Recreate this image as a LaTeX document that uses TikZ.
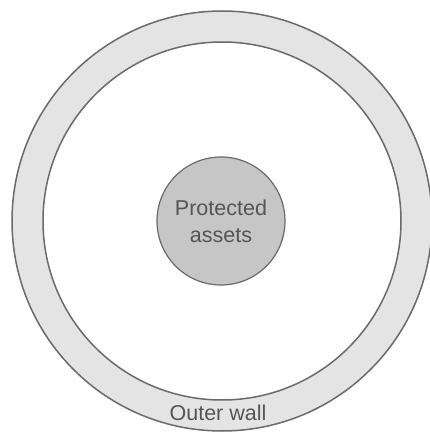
\documentclass[tikz,border=0pt]{standalone}
\usepackage{fontspec}
\setmainfont{Liberation Sans}
\definecolor{ringfill}{HTML}{E4E4E4}
\definecolor{corefill}{HTML}{C6C6C6}
\definecolor{edge}{HTML}{6A6A6A}
\definecolor{txt}{HTML}{555555}
\begin{document}
\begin{tikzpicture}[x=1pt,y=1pt,
  wall/.style={draw=edge,line width=1.5pt},
  lbl/.style={text=txt,font=\fontsize{21.5}{27}\selectfont,align=center,inner sep=0pt}]
\useasboundingbox (0,0) rectangle (430,432);
\begin{scope}
\clip (0,0) rectangle (430,432);
\fill[ringfill,even odd rule] (222,211) circle (210) (222,211) circle (179);
\draw[wall] (222,211) circle (210);
\draw[wall] (222,211) circle (179);
\end{scope}
\node[circle,minimum size=128pt,fill=corefill,draw=edge,line width=1.2pt,lbl] (core) at (221,211) {Protected\\assets};
\node[lbl] (wall) at (218,19) {Outer wall};
\end{tikzpicture}
\end{document}
